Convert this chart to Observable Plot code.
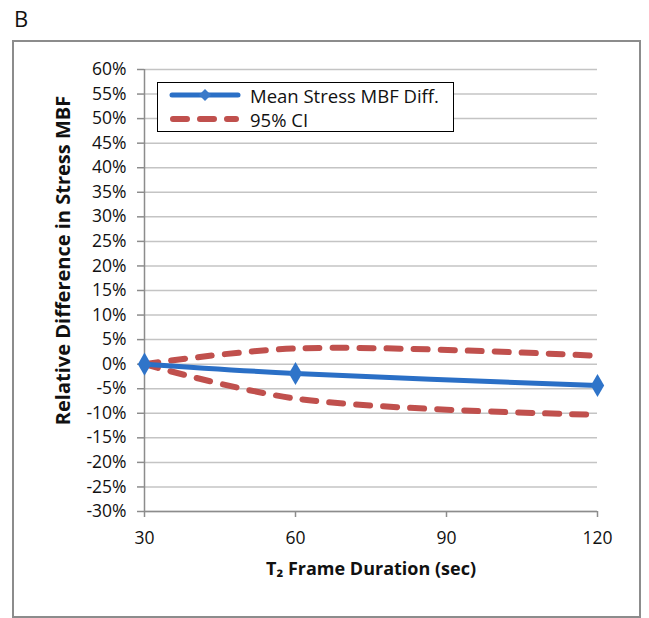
<!DOCTYPE html>
<html>
<head>
<meta charset="utf-8">
<script src="https://cdn.jsdelivr.net/npm/d3@7"></script>
<script src="https://cdn.jsdelivr.net/npm/@observablehq/plot@0.6"></script>
<style>
  html, body { margin: 0; padding: 0; background: #fff; }
  #wrap { position: relative; width: 649px; height: 618px; font-family: "Open Sans", sans-serif; }
  #panel { position: absolute; font-size: 22px; color: #111; }
  #frame { position: absolute; left: 12px; top: 40px; width: 625px; height: 574px; border: 2px solid #8c8c8c; pointer-events: none; }
  #legend { position: absolute; left: 157px; top: 82px; width: 295px; height: 48px; border: 1.5px solid #000; background: #fff; font-size: 18.5px; color: #111; }
  .row { position: absolute; left: 0; height: 24px; display: flex; align-items: center; white-space: nowrap; }
  .row svg { margin-left: 10px; margin-right: 8px; }
</style>
</head>
<body>
<div id="wrap">
  <div id="chart"></div>
  <div id="frame"></div>
  <div id="panel" style="left:14px; top:3px;">B</div>
  <div id="legend">
    <div class="row" style="top:0px;">
      <svg width="74" height="14"><line x1="4" x2="70" y1="7" y2="7" stroke="#2a6fc6" stroke-width="5" stroke-linecap="round"/><path d="M37,1 L43,7 L37,13 L31,7 Z" fill="#3b7ac9"/></svg>
      <span>Mean Stress MBF Diff.</span>
    </div>
    <div class="row" style="top:24px;">
      <svg width="74" height="14"><line x1="5" x2="68" y1="7" y2="7" stroke="#c0504d" stroke-width="6" stroke-linecap="round" stroke-dasharray="14,13"/></svg>
      <span>95% CI</span>
    </div>
  </div>
</div>
<script>
// Data
const durations = [30, 60, 120];
const meanDiff = [0, -1.9, -4.35];
const ciUpper = [0, 3.2, 1.7];
const ciLower = [0, -7.0, -10.3];
const xTicks = [30, 60, 90, 120];
const yTicks = [-30, -25, -20, -15, -10, -5, 0, 5, 10, 15, 20, 25, 30, 35, 40, 45, 50, 55, 60];
const yLabel = "Relative Difference in Stress MBF";
const xLabel = "T\u2082 Frame Duration (sec)";

const meanRows = durations.map((d, i) => ({x: d, y: meanDiff[i]}));
const upperRows = durations.map((d, i) => ({x: d, y: ciUpper[i]}));
const lowerRows = durations.map((d, i) => ({x: d, y: ciLower[i]}));

const red = "#c0504d";
const blue = "#2a6fc6";

const chart = Plot.plot({
  width: 649,
  height: 618,
  marginLeft: 144,
  marginRight: 52,
  marginTop: 69,
  marginBottom: 107,
  style: {fontFamily: "Open Sans, sans-serif", fontSize: "17px", color: "#111", background: "transparent"},
  x: {domain: [30, 120], ticks: xTicks},
  y: {domain: [-30, 60], ticks: yTicks},
  marks: [
    Plot.gridY(yTicks, {stroke: "#c4c4c4", strokeOpacity: 1, strokeWidth: 1.5}),
    Plot.ruleX([30], {stroke: "#8c8c8c", strokeWidth: 1.5}),
    Plot.ruleY([-30], {stroke: "#8c8c8c", strokeWidth: 1.5}),
    Plot.axisY({ticks: yTicks, tickFormat: d => d + "%", tickSize: 7, tickPadding: 11, stroke: "#8c8c8c", strokeWidth: 1.5, label: null, fontSize: 17.5}),
    Plot.axisX({ticks: xTicks, tickSize: 6, tickPadding: 14, stroke: "#8c8c8c", strokeWidth: 1.5, label: null, fontSize: 17.5}),
    Plot.line(upperRows, {x: "x", y: "y", curve: "catmull-rom", stroke: red, strokeWidth: 6, strokeLinecap: "round", strokeDasharray: "14,13"}),
    Plot.line(lowerRows, {x: "x", y: "y", curve: "catmull-rom", stroke: red, strokeWidth: 6, strokeLinecap: "round", strokeDasharray: "14,13"}),
    Plot.line(meanRows, {x: "x", y: "y", curve: "catmull-rom", stroke: blue, strokeWidth: 5}),
    Plot.dot(meanRows, {x: "x", y: "y", symbol: "diamond", r: 7, fill: "#2f74c9", stroke: "none"}),
    Plot.text([yLabel], {frameAnchor: "left", textAnchor: "middle", rotate: -90, dx: -81, dy: -30, fontWeight: "bold", fontSize: 20, fill: "#111"}),
    Plot.text([xLabel], {frameAnchor: "bottom", dy: 63, fontWeight: "bold", fontSize: 18, fill: "#111"})
  ]
});
document.getElementById("chart").appendChild(chart);
</script>
</body>
</html>
